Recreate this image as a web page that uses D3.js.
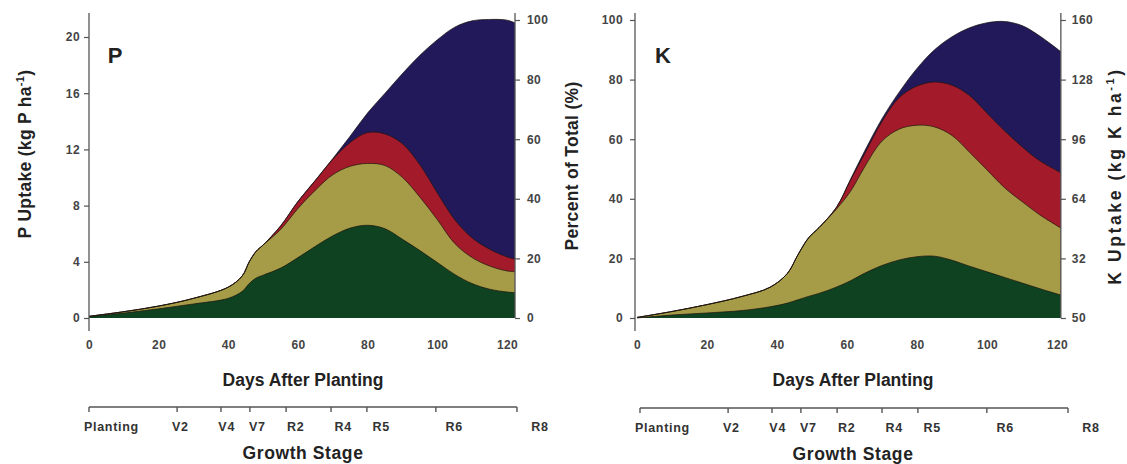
<!DOCTYPE html>
<html>
<head>
<meta charset="utf-8">
<script src="https://cdn.jsdelivr.net/npm/d3@7"></script>
<style>
  html, body { margin: 0; padding: 0; background: #fff; }
  svg { display: block; font-family: "Liberation Sans", Arial, Helvetica, sans-serif; }
  .tick text { font-weight: bold; font-size: 12px; fill: #444; letter-spacing: 0.4px; }
  .tick line { stroke: #555; stroke-width: 1.2; }
  .title { font-weight: bold; font-size: 17.5px; fill: #222; }
  .stage { font-weight: bold; font-size: 12.5px; fill: #333; letter-spacing: 0.7px; }
</style>
</head>
<body>
<svg id="chart" width="1127" height="464"></svg>
<script>
// ---- Phosphorus uptake by plant part (kg P/ha) ----
const pDays    = [0, 10, 20, 30, 40, 44, 46, 48, 50, 55, 60, 65, 70, 75, 80, 85, 90, 95, 100, 105, 110, 115, 120, 122.3];
const pLeaf    = [0.10, 0.35, 0.65, 1.00, 1.40, 1.90, 2.45, 2.85, 3.05, 3.55, 4.30, 5.10, 5.85, 6.40, 6.60, 6.35, 5.60, 4.80, 3.95, 3.10, 2.45, 2.05, 1.85, 1.80];
const pStem    = [0.02, 0.10, 0.20, 0.40, 0.80, 1.10, 1.55, 1.90, 2.15, 2.75, 3.50, 4.00, 4.35, 4.40, 4.40, 4.50, 4.40, 3.80, 3.05, 2.20, 1.85, 1.65, 1.50, 1.50];
const pPetiole = [0, 0, 0, 0, 0, 0, 0, 0, 0, 0.25, 0.50, 0.70, 1.10, 1.70, 2.20, 2.25, 2.40, 2.30, 1.90, 1.70, 1.40, 1.20, 1.00, 0.90];
const pPod     = [0, 0, 0, 0, 0, 0, 0, 0, 0, 0, 0, 0, 0.05, 0.45, 1.40, 2.90, 5.00, 7.80, 10.90, 13.70, 15.45, 16.35, 16.85, 16.80];

// ---- Potassium uptake by plant part (kg K/ha) ----
const kDays    = [0, 10, 20, 30, 38, 43, 46, 49, 52, 57, 61, 65, 70, 75, 80, 85, 90, 95, 100, 105, 110, 115, 121.1];
const kLeaf    = [0, 1.6, 2.7, 4.0, 6.0, 8.0, 9.8, 11.6, 13.2, 16.6, 20, 24, 28.2, 31.2, 32.9, 33.2, 31.0, 27.8, 24.8, 21.8, 18.8, 15.8, 12.3];
const kStem    = [0.3, 1.9, 4.5, 7.6, 10.5, 16, 24.2, 31.4, 35.3, 41.9, 48, 57, 66.8, 70.3, 70.6, 69.4, 67.0, 61.2, 54.7, 48.2, 43.7, 39.7, 36];
const kPetiole = [0, 0, 0, 0, 0, 0, 0, 0, 0, 1.0, 6, 7, 10.5, 17, 21, 24.1, 27, 30.5, 30.5, 30.5, 29.5, 29, 29.7];
const kPod     = [0, 0, 0, 0, 0, 0, 0, 0, 0, 0, 0.5, 1.5, 1.5, 3, 9.5, 17.3, 26, 36.3, 48.5, 58.7, 65, 67, 65];

// ---- Axis ticks ----
const dayTicks   = [0, 20, 40, 60, 80, 100, 120];
const pTicks     = [0, 4, 8, 12, 16, 20];
const pctTicks   = [0, 20, 40, 60, 80, 100];
const kTicks     = [0, 32, 64, 96, 128, 160];
const kTickLabels = ["50", "32", "64", "96", "128", "160"];

// ---- Growth stages (days after planting) ----
const stageNames = ["Planting", "V2", "V4", "V7", "R2", "R4", "R5", "R6", "R8"];
const stageDays  = [0, 25.3, 37.9, 46.2, 56.6, 69.5, 79.8, 99.6, 122.9];

const layerKeys   = ["leaf", "stem", "petiole", "pod"];
const layerColors = { leaf: "#0e4220", stem: "#a69b47", petiole: "#a31b2b", pod: "#21195a" };

const svg = d3.select("#chart");
const base = 318;

function drawPanel(cfg) {
  const g = svg.append("g");
  const x = d3.scaleLinear().domain([0, 120]).range(cfg.xRange);
  const y = d3.scaleLinear().domain(cfg.yDomain).range([base, cfg.yTop]);
  const pct = d3.scaleLinear().domain([0, 100]).range([base, 20]);

  const rows = cfg.days.map((d, i) => ({
    day: d, leaf: cfg.leaf[i], stem: cfg.stem[i], petiole: cfg.petiole[i], pod: cfg.pod[i]
  }));
  const series = d3.stack().keys(layerKeys)(rows);

  // each layer is filled from the baseline up to its cumulative top,
  // drawn from the outermost layer inwards so inner layers cover it
  const curve = d3.curveCatmullRom.alpha(0.5);
  const area = d3.area()
    .x(d => x(d.data.day)).y0(base).y1(d => y(d[1]))
    .curve(curve);
  const edge = d3.line()
    .x(d => x(d.data.day)).y(d => y(d[1]))
    .curve(curve);

  const ordered = series.slice().reverse();
  g.selectAll("path.layer").data(ordered).join("path")
    .attr("class", "layer")
    .attr("d", area)
    .attr("fill", s => layerColors[s.key]);
  g.selectAll("path.edge").data(ordered).join("path")
    .attr("class", "edge")
    .attr("d", edge)
    .attr("fill", "none")
    .attr("stroke", "#1c140e")
    .attr("stroke-opacity", 0.7)
    .attr("stroke-width", 1);

  // left axis
  const leftScale = cfg.leftIsPct ? pct : y;
  const leftAxis = d3.axisLeft(leftScale)
    .tickValues(cfg.leftIsPct ? pctTicks : pTicks)
    .tickSize(5).tickPadding(cfg.leftPad).tickSizeOuter(0);
  const la = g.append("g").attr("transform", `translate(${cfg.xRange[0] - cfg.leftShift},0)`).call(leftAxis);
  la.select(".domain").remove();
  g.append("line")
    .attr("x1", cfg.xRange[0] - cfg.leftShift).attr("x2", cfg.xRange[0] - cfg.leftShift)
    .attr("y1", 13).attr("y2", 331)
    .attr("stroke", "#555").attr("stroke-width", 1.3);

  // right axis
  const rightEdge = x(cfg.days[cfg.days.length - 1]);
  const rightAxis = cfg.leftIsPct
    ? d3.axisRight(y).tickValues(kTicks).tickFormat((d, i) => kTickLabels[i])
    : d3.axisRight(pct).tickValues(pctTicks);
  rightAxis.tickSize(5).tickPadding(cfg.rightPad).tickSizeOuter(0);
  const ra = g.append("g").attr("transform", `translate(${rightEdge},0)`).call(rightAxis);
  ra.select(".domain").remove();
  g.append("line")
    .attr("x1", rightEdge).attr("x2", rightEdge)
    .attr("y1", 13).attr("y2", base)
    .attr("stroke", "#555").attr("stroke-width", 1.3);

  // bottom axis (labels only)
  const bx = d3.axisBottom(x).tickValues(dayTicks).tickSize(0).tickPadding(22);
  const ba = g.append("g").attr("transform", `translate(0,${base})`).call(bx);
  ba.select(".domain").remove();

  // panel letter
  g.append("text")
    .attr("x", cfg.xRange[0] + 26).attr("y", 63)
    .attr("text-anchor", "middle")
    .style("font-weight", "bold").style("font-size", "22px").style("fill", "#222")
    .text(cfg.letter);

  // x axis title
  g.append("text").attr("class", "title")
    .attr("x", cfg.titleX).attr("y", 385.5)
    .attr("text-anchor", "middle")
    .text("Days After Planting");

  // growth stage axis
  const s0 = cfg.stageX;
  const sy = cfg.stageY;
  const stage = d3.scaleLinear().domain([0, 122.9]).range([s0, s0 + 428]);
  const stageLabel = d3.scaleLinear().domain([0, 122.9]).range([s0 - 2, s0 + 451]);
  g.append("line")
    .attr("x1", stage(0)).attr("x2", stage(122.9))
    .attr("y1", sy).attr("y2", sy)
    .attr("stroke", "#555").attr("stroke-width", 1.4);
  g.selectAll("line.stick").data(stageDays).join("line")
    .attr("class", "stick")
    .attr("x1", d => stage(d)).attr("x2", d => stage(d))
    .attr("y1", sy).attr("y2", sy + 5)
    .attr("stroke", "#555").attr("stroke-width", 1.4);
  g.selectAll("text.stage").data(stageNames).join("text")
    .attr("class", "stage")
    .attr("x", (d, i) => i === 0 ? stage(0) - 5 : stageLabel(stageDays[i]))
    .attr("y", sy + 23.5)
    .attr("text-anchor", (d, i) => i === 0 ? "start" : "middle")
    .text(d => d);
  g.append("text").attr("class", "title")
    .attr("x", cfg.titleX).attr("y", sy + 52)
    .attr("text-anchor", "middle")
    .style("letter-spacing", "0.6px")
    .text("Growth Stage");
}

drawPanel({
  letter: "P", days: pDays, leaf: pLeaf, stem: pStem, petiole: pPetiole, pod: pPod,
  xRange: [89, 507], yDomain: [0, 20], yTop: 37, leftIsPct: false,
  leftShift: 0, leftPad: 4, rightPad: 7, titleX: 303, stageX: 89, stageY: 407
});
drawPanel({
  letter: "K", days: kDays, leaf: kLeaf, stem: kStem, petiole: kPetiole, pod: kPod,
  xRange: [637, 1057], yDomain: [0, 160], yTop: 20, leftIsPct: true,
  leftShift: 2, leftPad: 7, rightPad: 6, titleX: 853, stageX: 640, stageY: 408
});

// rotated axis titles
function vTitle(x, y, parts, spacing) {
  const t = svg.append("text").attr("class", "title")
    .attr("transform", `translate(${x},${y}) rotate(-90)`)
    .attr("text-anchor", "middle").attr("dy", "0.35em")
    .style("letter-spacing", spacing + "px");
  parts.forEach(p => {
    const s = t.append("tspan").text(p.t);
    if (p.sup) s.style("font-size", "11px").attr("dy", -7);
    if (p.back) s.attr("dy", 7);
  });
}
vTitle(25, 154, [{ t: "P Uptake (kg P ha" }, { t: "-1", sup: true }, { t: ")", back: true }], 0.3);
vTitle(572, 166, [{ t: "Percent of Total (%)" }], 0.3);
vTitle(1115, 176, [{ t: "K Uptake (kg K ha" }, { t: "-1", sup: true }, { t: ")", back: true }], 2.6);
</script>
</body>
</html>
